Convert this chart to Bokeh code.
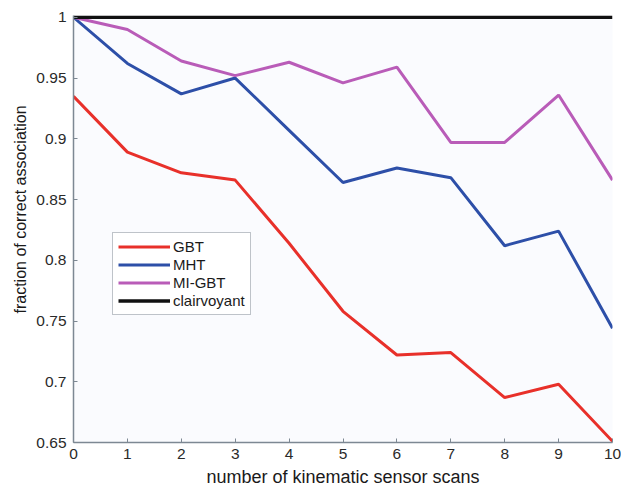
from bokeh.plotting import figure
from bokeh.models import Range1d, FixedTicker, Legend, LegendItem, CustomJSTickFormatter, Title
from bokeh.embed import file_html
from bokeh.resources import INLINE

scans = [0, 1, 2, 3, 4, 5, 6, 7, 8, 9, 10]
gbt = [0.935, 0.889, 0.872, 0.866, 0.814, 0.758, 0.722, 0.724, 0.687, 0.698, 0.651]
mht = [1.0, 0.962, 0.937, 0.950, 0.907, 0.864, 0.876, 0.868, 0.812, 0.824, 0.744]
mi_gbt = [1.0, 0.990, 0.964, 0.952, 0.963, 0.946, 0.959, 0.897, 0.897, 0.936, 0.866]
clairvoyant = [1.0] * 11
y_ticks = [0.65, 0.7, 0.75, 0.8, 0.85, 0.9, 0.95, 1]
x_ticks = [0, 1, 2, 3, 4, 5, 6, 7, 8, 9, 10]
x_title = "number of kinematic sensor scans"
y_title = "fraction of correct association"

FONT = "Liberation Sans"
AXIS = "#7d8893"

p = figure(width=621, height=489, output_backend="svg", toolbar_location=None,
           x_range=Range1d(0, 10), y_range=Range1d(0.65, 1.0015),
           min_border_left=73, min_border_right=9, min_border_top=15, min_border_bottom=47)
p.background_fill_color = "#fafbfe"
p.border_fill_color = "white"
p.outline_line_color = None
p.grid.visible = False

r_gbt = p.line(scans, gbt, line_color="#e8302a", line_width=3)
r_mht = p.line(scans, mht, line_color="#2d4fa8", line_width=3)
r_mi = p.line(scans, mi_gbt, line_color="#b95cb8", line_width=3)
r_cl = p.line(scans, clairvoyant, line_color="#111111", line_width=3.5)

for ax in (p.xaxis[0], p.yaxis[0]):
    ax.axis_line_color = AXIS
    ax.axis_line_width = 1.5
    ax.major_tick_line_color = AXIS
    ax.major_tick_in = 4
    ax.major_tick_out = 0
    ax.minor_tick_line_color = None
    ax.major_label_text_font = FONT
    ax.major_label_text_font_size = "15.5px"
    ax.major_label_text_color = "#2a2a2a"
    ax.axis_label_text_font = FONT
    ax.axis_label_text_font_style = "normal"
    ax.axis_label_text_color = "#1a1a1a"
    ax.formatter = CustomJSTickFormatter(code="return tick.toString();")

p.xaxis.ticker = FixedTicker(ticks=x_ticks)
p.yaxis.ticker = FixedTicker(ticks=y_ticks)
p.xaxis.axis_label = x_title
p.xaxis.axis_label_text_font_size = "18px"
p.xaxis.major_label_standoff = 6
p.xaxis.axis_label_standoff = 5
p.yaxis.major_label_standoff = 7

ytitle = Title(text=y_title, align="left", offset=129, standoff=10,
               text_font=FONT, text_font_size="16px", text_font_style="normal",
               text_color="#1a1a1a")
p.add_layout(ytitle, "left")

legend = Legend(items=[
    LegendItem(label="GBT", renderers=[r_gbt]),
    LegendItem(label="MHT", renderers=[r_mht]),
    LegendItem(label="MI-GBT", renderers=[r_mi]),
    LegendItem(label="clairvoyant", renderers=[r_cl]),
], location=(39, 127))
legend.label_text_font = FONT
legend.label_text_font_size = "15px"
legend.label_text_color = "#1a1a1a"
legend.glyph_width = 52
legend.glyph_height = 17
legend.label_height = 17
legend.label_standoff = 3
legend.spacing = 1
legend.padding = 5
legend.margin = 0
legend.border_line_color = AXIS
legend.border_line_width = 1.5
legend.background_fill_color = "white"
legend.background_fill_alpha = 1
p.add_layout(legend, "center")

open("out.html", "w").write(file_html(p, INLINE))
